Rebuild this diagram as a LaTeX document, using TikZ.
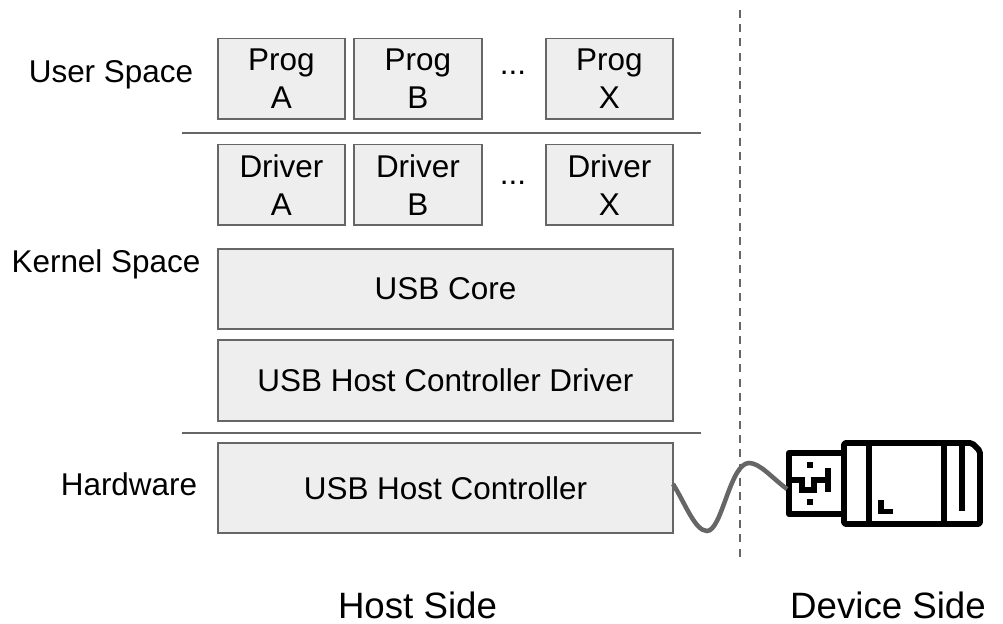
\documentclass[tikz,border=0pt]{standalone}
\usepackage{fontspec}
\setmainfont{Liberation Sans}
\definecolor{boxfill}{HTML}{EEEEEE}
\definecolor{edge}{HTML}{666666}
\tikzset{
  blockbox/.style={draw=edge,fill=boxfill,line width=1.3pt,anchor=north west,inner sep=0pt,outer sep=0pt,align=center,font=\fontsize{23.6}{28.2}\selectfont},
  sidelabel/.style={anchor=center,inner sep=0pt,font=\fontsize{23.6}{27}\selectfont},
  footlabel/.style={anchor=center,inner sep=0pt,font=\fontsize{27.5}{32}\selectfont},
  sepline/.style={draw=edge,line width=1.1pt},
  usbline/.style={draw=black,line width=4.4pt,line join=round},
}
\begin{document}
\begin{tikzpicture}[x=0.75pt,y=-0.75pt]
\useasboundingbox (0,0) rectangle (1003,624);
% boxes
\node[blockbox,minimum width=95.5pt,minimum height=60.5pt] (proga) at (217.8,38.6) {Prog\\A};
\node[blockbox,minimum width=95.5pt,minimum height=60.5pt] (progb) at (354.3,38.6) {Prog\\B};
\node[blockbox,minimum width=95.5pt,minimum height=60.5pt] (progx) at (545.8,38.6) {Prog\\X};
\node[blockbox,minimum width=95.5pt,minimum height=60.5pt] (driva) at (217.8,144.6) {Driver\\A};
\node[blockbox,minimum width=95.5pt,minimum height=60.5pt] (drivb) at (354.3,144.6) {Driver\\B};
\node[blockbox,minimum width=95.5pt,minimum height=60.5pt] (drivx) at (545.8,144.6) {Driver\\X};
\node[blockbox,minimum width=341.5pt,minimum height=60pt] (core) at (217.8,249) {USB Core};
\node[blockbox,minimum width=341.5pt,minimum height=60.5pt] (hcd) at (217.8,340) {USB Host Controller Driver};
\node[blockbox,minimum width=341.5pt,minimum height=67.5pt] (hc) at (217.8,442.8) {USB Host Controller};
% dots
\node[sidelabel] (dotsa) at (513,73) {...};
\node[sidelabel] (dotsb) at (513,183) {...};
% labels
\node[sidelabel] (user) at (111,75) {User Space};
\node[sidelabel] (kernel) at (106,264) {Kernel Space};
\node[sidelabel] (hw) at (129,484) {Hardware};
\node[footlabel] (host) at (417.5,605) {Host Side};
\node[footlabel] (device) at (888,605) {Device Side};
% separators
\coordinate (s1a) at (182,133); \coordinate (s1b) at (701,133);
\coordinate (s2a) at (182,433); \coordinate (s2b) at (701,433);
\draw[sepline] (s1a) -- (s1b);
\draw[sepline] (s2a) -- (s2b);
% dashed divider
\coordinate (da) at (740,10); \coordinate (db) at (740,556.5);
\draw[draw=edge,line width=1.2pt,dash pattern=on 6pt off 4.63pt] (da) -- (db);
% USB stick
\draw[usbline] (844,453) -- (789,453) -- (789,514) -- (844,514);
\draw[usbline,rounded corners=1.5pt] (972,443) -- (844,443) -- (844,524) -- (980,524) -- (980,451) -- cycle;
\draw[usbline] (869,443) -- (869,524);
\draw[usbline] (944,443) -- (944,524);
\draw[usbline] (962,443) -- (962,511);
\draw[usbline,line join=miter] (881,500) -- (881,511.5) -- (893,511.5);
\fill (807,462) rectangle (813,468);
\fill (807,499) rectangle (813,505);
\draw[usbline,line join=miter] (789,480) -- (802,480) -- (802,490) -- (814,490) -- (814,480) -- (828,480);
\draw[usbline,line join=miter] (828,468) -- (828,492);
% cable
\draw[draw=edge,line width=3.4pt,line cap=butt] (673,484) .. controls (685,503) and (695,531) .. (707,531) .. controls (722,531) and (730,463) .. (749,463) .. controls (760,463) and (772,478) .. (787,489);
\end{tikzpicture}
\end{document}
